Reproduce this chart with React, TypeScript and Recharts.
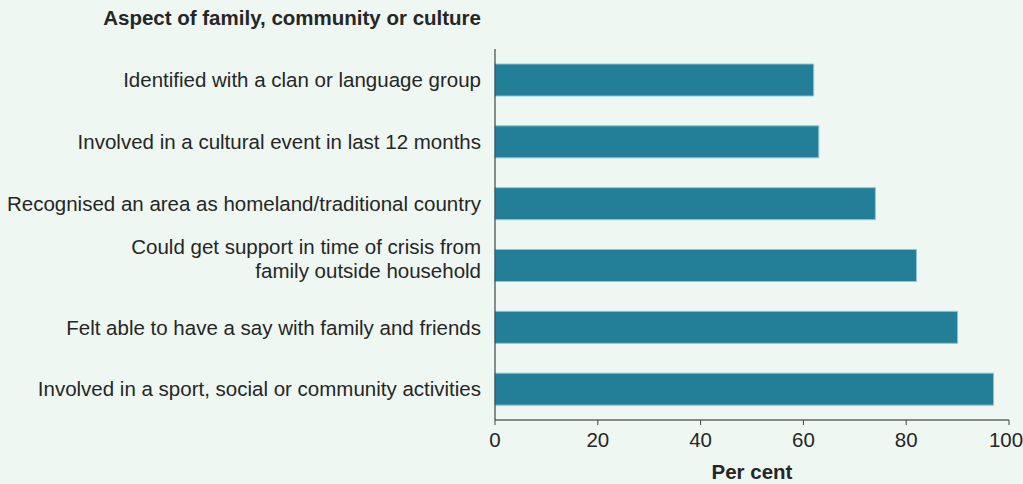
import React from "react";
import { BarChart, Bar, XAxis, YAxis, Label } from "recharts";

const aspects = [
  "Identified with a clan or language group",
  "Involved in a cultural event in last 12 months",
  "Recognised an area as homeland/traditional country",
  "Could get support in time of crisis from\nfamily outside household",
  "Felt able to have a say with family and friends",
  "Involved in a sport, social or community activities",
];
const perCent = [62, 63, 74, 82, 90, 97];
const xTicks = [0, 20, 40, 60, 80, 100];

const data = aspects.map((name, i) => ({ name, value: perCent[i] }));

const FONT = "Arial, 'Liberation Sans', sans-serif";
const TEXT = "#262626";
const FS = 20.5;

const AspectTick = ({ x, y, payload }: any) => {
  const lines = String(payload.value).split("\n");
  if (lines.length === 1) {
    return (
      <text x={x} y={y} dy="0.355em" textAnchor="end" fontSize={FS} fill={TEXT} fontFamily={FONT}>
        {lines[0]}
      </text>
    );
  }
  return (
    <text x={x} y={y} textAnchor="end" fontSize={FS} fill={TEXT} fontFamily={FONT}>
      <tspan x={x} dy={-11}>{lines[0]}</tspan>
      <tspan x={x} dy={24}>{lines[1]}</tspan>
    </text>
  );
};

// keep the last label inside the picture, as the reference does
const PercentTick = ({ x, y, payload }: any) => {
  const shift = payload.value === 100 ? -3 : 0;
  return (
    <text x={x + shift} y={y} dy="0.71em" textAnchor="middle" fontSize={FS} fill={TEXT} fontFamily={FONT}>
      {payload.value}
    </text>
  );
};

const Title = ({ viewBox }: any) => (
  <text
    x={viewBox.x + viewBox.width - 14}
    y={viewBox.y - 24}
    textAnchor="end"
    fontSize={FS}
    fontWeight="bold"
    fill={TEXT}
    fontFamily={FONT}
  >
    Aspect of family, community or culture
  </text>
);

const App = () => {
  return (
    <div style={{ position: "absolute", left: 0, top: 0, width: 1023, height: 484, background: "#eef7f2" }}>
      <BarChart
        width={1023}
        height={484}
        data={data}
        layout="vertical"
        margin={{ top: 49, right: 14, bottom: 4, left: 0 }}
      >
        <XAxis
          type="number"
          domain={[0, 100]}
          ticks={xTicks}
          tickSize={5}
          tickMargin={7}
          height={60}
          stroke="#666"
          tick={<PercentTick />}
          axisLine={{ stroke: "#666", strokeWidth: 1.5 }}
          tickLine={{ stroke: "#444" }}
        >
          <Label
            value="Per cent"
            position="insideBottom"
            offset={1}
            style={{ fontSize: FS, fontWeight: "bold", fill: TEXT, fontFamily: FONT }}
          />
        </XAxis>
        <YAxis
          type="category"
          dataKey="name"
          width={495}
          tickLine={false}
          tickSize={6}
          tickMargin={8}
          interval={0}
          axisLine={{ stroke: "#222", strokeWidth: 1 }}
          tick={<AspectTick />}
        >
          <Label content={<Title />} />
        </YAxis>
        <Bar
          dataKey="value"
          barSize={32}
          fill="#237f98"
          stroke="#8cc6d6"
          strokeWidth={1}
          isAnimationActive={false}
        />
      </BarChart>
    </div>
  );
};

export default App;
